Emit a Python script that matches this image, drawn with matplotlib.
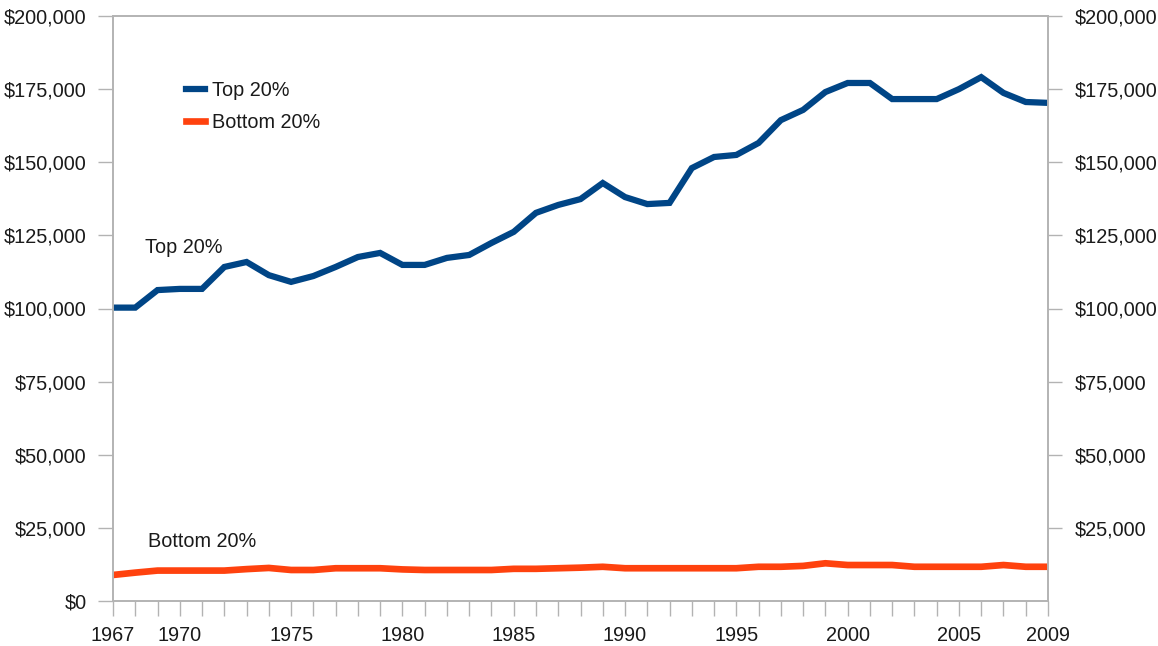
import matplotlib
matplotlib.use("Agg")
import matplotlib.pyplot as plt
from matplotlib.ticker import FuncFormatter, FixedLocator

years = list(range(1967, 2010))
top20 = [100300, 100300, 106300, 106700, 106700, 114200, 115900, 111400, 109100, 111100,
         114200, 117600, 119000, 114900, 114900, 117300, 118300, 122400, 126200, 132700,
         135400, 137400, 142900, 138100, 135700, 136100, 148000, 151800, 152500, 156600,
         164400, 167900, 174000, 177100, 177100, 171600, 171600, 171600, 175000, 179100,
         173700, 170600, 170300]
bottom20 = [8900, 9700, 10400, 10400, 10400, 10400, 10900, 11300, 10600, 10600,
            11200, 11200, 11200, 10800, 10600, 10600, 10600, 10600, 11000, 11000,
            11200, 11400, 11700, 11200, 11200, 11200, 11200, 11200, 11200, 11700,
            11700, 12000, 12900, 12300, 12300, 12300, 11700, 11700, 11700, 11700,
            12300, 11700, 11700]
labeled_years = [1967, 1970, 1975, 1980, 1985, 1990, 1995, 2000, 2005, 2009]
y_ticks = [0, 25000, 50000, 75000, 100000, 125000, 150000, 175000, 200000]
right_ticks = [25000, 50000, 75000, 100000, 125000, 150000, 175000, 200000]

TOP_C = "#004586"
BOT_C = "#ff420e"
GRID = "#b3b3b3"
TXT = "#1a1a1a"
FS = 14.3
plt.rcParams['font.family'] = ['Liberation Sans', 'DejaVu Sans']

fig = plt.figure(figsize=(11.58, 6.46), dpi=100)
ax = fig.add_axes([113/1158, 1-601/646, (1048-113)/1158, (601-16)/646])

ax.plot(years, top20, color=TOP_C, lw=4.5, solid_joinstyle='miter', label="Top 20%")
ax.plot(years, bottom20, color=BOT_C, lw=4.8, solid_joinstyle='miter', label="Bottom 20%")

ax.set_xlim(1967, 2009)
ax.set_ylim(0, 200000)

fmt = FuncFormatter(lambda v, p: "${:,.0f}".format(v))
ax.yaxis.set_major_locator(FixedLocator(y_ticks))
ax.yaxis.set_major_formatter(fmt)

ax.xaxis.set_major_locator(FixedLocator(years))
ax.set_xticklabels([str(y) if y in labeled_years else "" for y in years])

for s in ax.spines.values():
    s.set_color(GRID)
    s.set_linewidth(1.2)

ax.tick_params(axis='x', direction='out', length=11, width=1.0, color=GRID,
               labelsize=FS, labelcolor=TXT, pad=7)
ax.tick_params(axis='y', direction='out', length=11, width=1.0, color=GRID,
               labelsize=FS, labelcolor=TXT, pad=8)

ax2 = ax.twinx()
ax2.set_ylim(0, 200000)
ax2.yaxis.set_major_locator(FixedLocator(right_ticks))
ax2.yaxis.set_major_formatter(fmt)
ax2.tick_params(axis='y', direction='out', length=10, width=1.0, color=GRID,
                labelsize=FS, labelcolor=TXT, pad=9)
for s in ax2.spines.values():
    s.set_color(GRID)
    s.set_linewidth(1.2)

leg = ax.legend(loc='upper left', bbox_to_anchor=(186/1158, 1-81/646),
                bbox_transform=fig.transFigure, frameon=False, fontsize=FS,
                handlelength=0.95, handletextpad=0.35, labelspacing=0.65,
                borderpad=0, borderaxespad=0)
for t in leg.get_texts():
    t.set_color(TXT)

ax.text(1968.45, 121000, "Top 20%", fontsize=FS, color=TXT, ha='left', va='center')
ax.text(1968.55, 20400, "Bottom 20%", fontsize=FS, color=TXT, ha='left', va='center')

fig.savefig("out.png", dpi=100)
